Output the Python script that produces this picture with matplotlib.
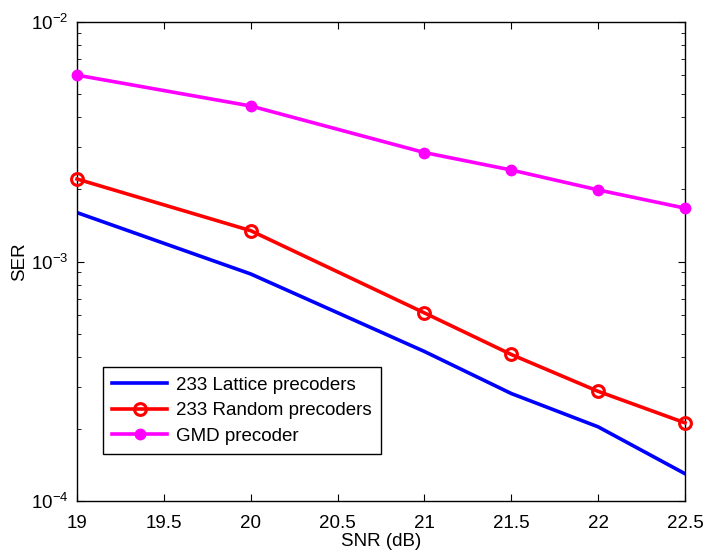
import numpy as np
import matplotlib
matplotlib.use("Agg")
import matplotlib.pyplot as plt
from matplotlib.ticker import LogLocator, LogFormatterMathtext, NullFormatter

plt.rcParams['font.family'] = ['Liberation Sans', 'DejaVu Sans']
plt.rcParams['mathtext.fontset'] = 'custom'
plt.rcParams['mathtext.rm'] = 'Liberation Sans'
plt.rcParams['mathtext.it'] = 'Liberation Sans:italic'
plt.rcParams['mathtext.default'] = 'regular'

# data
snr = [19, 20, 21, 21.5, 22, 22.5]
ser_lattice = [1.60e-3, 8.87e-4, 4.21e-4, 2.81e-4, 2.04e-4, 1.30e-4]
ser_random = [2.21e-3, 1.345e-3, 6.1e-4, 4.09e-4, 2.87e-4, 2.12e-4]
ser_gmd = [6.0e-3, 4.46e-3, 2.85e-3, 2.41e-3, 1.99e-3, 1.67e-3]
labels = ['233 Lattice precoders', '233 Random precoders', 'GMD precoder']

fs = 13.5

fig = plt.figure(figsize=(7.04, 5.54), dpi=100)
ax = fig.add_axes([77 / 704, 1 - 501 / 554, (685 - 77) / 704, (501 - 22) / 554])

ax.semilogy(snr, ser_lattice, color='#0000ff', lw=2.6, label=labels[0])
ax.semilogy(snr, ser_random, color='#ff0000', lw=2.6, marker='o', ms=8.5,
            mfc='none', mew=2.2, label=labels[1], clip_on=False, zorder=3)
ax.semilogy(snr, ser_gmd, color='#ff00ff', lw=2.6, marker='o', ms=7.5,
            mfc='#ff00ff', label=labels[2], clip_on=False, zorder=3)

ax.set_xlim(19, 22.5)
ax.set_ylim(1e-4, 1e-2)
ax.set_xticks(np.arange(19, 22.51, 0.5))
ax.set_xticklabels(['19', '19.5', '20', '20.5', '21', '21.5', '22', '22.5'])
ax.yaxis.set_major_locator(LogLocator(base=10, numticks=10))
ax.yaxis.set_major_formatter(LogFormatterMathtext())
ax.yaxis.set_minor_locator(LogLocator(base=10, subs=np.arange(2, 10), numticks=20))
ax.yaxis.set_minor_formatter(NullFormatter())

ax.tick_params(which='both', direction='in', top=True, right=True, labelsize=fs)
ax.tick_params(which='major', length=5, width=0.8)
ax.tick_params(which='minor', length=3, width=0.6)
ax.tick_params(axis='x', pad=10)
ax.tick_params(axis='y', pad=6)
for s in ax.spines.values():
    s.set_linewidth(1.0)

ax.set_xlabel('SNR (dB)', fontsize=fs, labelpad=1)
ax.set_ylabel('SER', fontsize=fs, labelpad=2)

leg = ax.legend(loc='lower left', bbox_to_anchor=(0.0428, 0.098), fontsize=fs,
                fancybox=False, edgecolor='black', framealpha=1,
                handlelength=2.9, borderpad=0.5, labelspacing=0.45,
                handletextpad=0.5, borderaxespad=0)
leg.get_frame().set_linewidth(1.0)

fig.savefig('out.png', dpi=100)
